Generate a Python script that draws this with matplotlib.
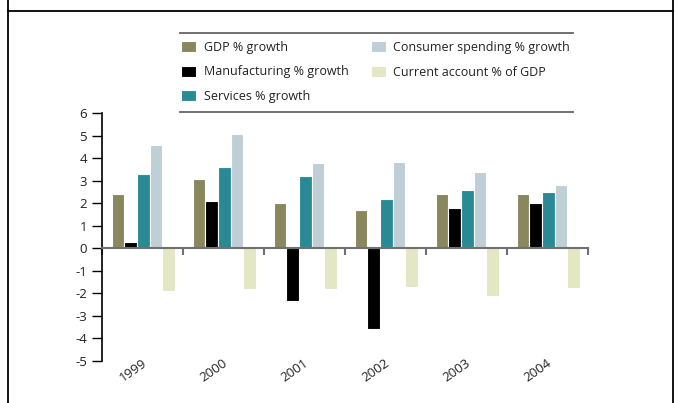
import numpy as np
import matplotlib
matplotlib.use("Agg")
import matplotlib.pyplot as plt
from matplotlib.lines import Line2D

plt.rcParams["font.family"] = ["Open Sans", "DejaVu Sans"]

years = ["1999", "2000", "2001", "2002", "2003", "2004"]
series_names = ["GDP % growth", "Manufacturing % growth", "Services % growth",
                "Consumer spending % growth", "Current account % of GDP"]
gdp = [2.4, 3.1, 2.0, 1.7, 2.4, 2.4]
manufacturing = [0.3, 2.1, -2.35, -3.6, 1.8, 2.0]
services = [3.3, 3.6, 3.2, 2.2, 2.6, 2.5]
consumer = [4.6, 5.1, 3.8, 3.85, 3.4, 2.8]
current_account = [-1.9, -1.8, -1.8, -1.7, -2.1, -1.75]
y_ticks = [-5, -4, -3, -2, -1, 0, 1, 2, 3, 4, 5, 6]

colors = ["#8a875e", "#000000", "#298a96", "#bfcfd6", "#e3e7c4"]
text_c = "#222222"

W, H = 677, 403
fig = plt.figure(figsize=(W / 100, H / 100), dpi=100)
ax = fig.add_axes([102 / W, 1 - 361 / H, (588 - 102) / W, (361 - 113.3) / H])

x = np.arange(len(years))
width = 0.156
all_series = [gdp, manufacturing, services, consumer, current_account]
for k, (vals, name, c) in enumerate(zip(all_series, series_names, colors)):
    ax.bar(x + (k - 2) * width + 0.01, vals, width, color=c, label=name,
           edgecolor="white", linewidth=0.8)

ax.set_xlim(-0.5, len(years) - 0.5)
ax.set_ylim(-5, 6)
ax.set_yticks(y_ticks)
ax.set_yticklabels([str(t) for t in y_ticks], fontsize=9.5, color=text_c)
ax.tick_params(axis="y", direction="out", length=7.2, width=1, color="black", pad=3.5)

# category boundary ticks on the zero line
ax.spines["bottom"].set_position(("data", 0))
ax.spines["bottom"].set_color("#707070")
ax.spines["bottom"].set_linewidth(1.5)
ax.set_xticks(np.arange(len(years) + 1) - 0.5)
ax.set_xticklabels([])
ax.tick_params(axis="x", direction="out", length=5, width=1.5, color="#707070")
for s in ["top", "right"]:
    ax.spines[s].set_visible(False)
ax.spines["left"].set_linewidth(1.2)

for i, yr in enumerate(years):
    ax.text(i - 0.12, -5.4, yr, rotation=35, ha="center", va="center",
            fontsize=9.5, color=text_c)

fig.legend(loc="upper left", bbox_to_anchor=(181 / W, 1 - 41 / H), ncol=2,
           frameon=False, fontsize=9, handlelength=1.2, handleheight=1.0,
           handletextpad=0.6, labelspacing=0.92, columnspacing=1.8,
           borderpad=0, borderaxespad=0, labelcolor=text_c)

# legend rules
for yy in [33, 111.7]:
    fig.add_artist(Line2D([180 / W, 573 / W], [1 - yy / H] * 2, color="#666666", lw=1.3))

# outer frame
fig.add_artist(Line2D([8 / W, 673 / W], [1 - 10.5 / H] * 2, color="black", lw=1.3))
fig.add_artist(Line2D([8 / W, 8 / W], [0, 1], color="black", lw=1.3))
fig.add_artist(Line2D([673 / W, 673 / W], [0, 1], color="black", lw=1.3))

fig.savefig("out.png", dpi=100)
